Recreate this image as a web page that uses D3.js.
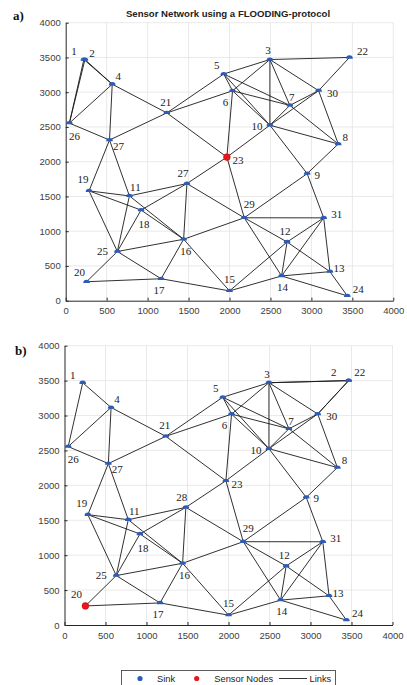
<!DOCTYPE html>
<html>
<head>
<meta charset="utf-8">
<script src="https://cdn.jsdelivr.net/npm/d3@7"></script>
<style>
  body { margin: 0; background: #fff; }
  svg { display: block; }
</style>
</head>
<body>
<svg id="chart" width="407" height="685"></svg>
<script>
// node positions (metres), index = node id
const nodeIds = [1, 3, 4, 5, 6, 7, 8, 9, 10, 11, 12, 13, 14, 15, 16, 17, 18, 19, 20, 21, 22, 23, 24, 25, 26, 27, 28, 29, 30, 31];
const nodeX   = [222, 2493, 568, 1930, 2037, 2737, 3328, 2948, 2493, 778, 2703, 3226, 2636, 2000, 1440, 1165, 920, 285, 255, 1235, 3465, 1968, 3438, 631, 45, 535, 1480, 2180, 3088, 3150];
const nodeY   = [3470, 3470, 3115, 3262, 3020, 2810, 2255, 1828, 2525, 1508, 845, 418, 356, 141, 884, 316, 1304, 1580, 273, 2702, 3500, 2066, 70, 708, 2555, 2312, 1685, 1193, 3022, 1192];
// node 2 moves between the two runs
const node2A = [235, 3470];
const node2B = [3465, 3500];

const edges = [
  [1, 26], [1, 4], [4, 26], [4, 27], [4, 21], [26, 27], [27, 21], [21, 5], [21, 6], [21, 23],
  [5, 3], [5, 6], [5, 7], [5, 10], [6, 3], [6, 7], [6, 10], [6, 23],
  [3, 22], [3, 10], [3, 7], [3, 30], [22, 30], [30, 7], [30, 10], [30, 8], [7, 10], [7, 8], [10, 8], [10, 9], [10, 23],
  [27, 19], [27, 11], [19, 11], [19, 18], [19, 25], [11, 16], [18, 16], [11, 28], [18, 28], [11, 25], [18, 25],
  [28, 16], [28, 23], [28, 29], [25, 16], [25, 20], [25, 17], [16, 17], [16, 15], [16, 29], [20, 17], [17, 15],
  [29, 23], [29, 9], [29, 31], [29, 12], [29, 14], [9, 31], [9, 8], [12, 31], [12, 15], [12, 14], [12, 13],
  [31, 14], [31, 13], [15, 14], [14, 13], [14, 24], [13, 24]
];
const edgesA = [[2, 26], [2, 4]];
const edgesB = [[2, 3], [2, 30]];

// the printed labels (panel a shows "27" twice)
const labelA = { 28: '27' };
const labelB = {};

const sensorA = 23;
const sensorB = 20;

const ticks = [0, 500, 1000, 1500, 2000, 2500, 3000, 3500, 4000];
const titleA = 'Sensor Network using a FLOODING-protocol';
const legendItems = ['Sink', 'Sensor Nodes', 'Links'];

// label placement (px offsets from the marker)
const labelOff = {
  1: [-10, -8], 2: [7, -6], 3: [-2, -9], 4: [6, -8], 5: [-7, -9], 6: [-7, 11], 7: [2, -8], 8: [7, -7],
  9: [10, 1], 10: [-13, 1], 11: [6, -9], 12: [-2, -11], 13: [9, -3], 14: [1, 11], 15: [0, -12],
  16: [2, 12], 17: [-2, 11], 18: [3, 14], 19: [-6, -12], 20: [-7, -10], 21: [-1, -11], 22: [13, -6],
  23: [11, 3], 24: [11, -7], 25: [-15, 0], 26: [5, 13], 27: [9, 6], 28: [-4, -10], 29: [5, -14],
  30: [14, 2], 31: [13, -4]
};

const svg = d3.select('#chart');
const SINK = '#2d5bb5', SENSOR = '#e8161d';

function drawPanel(opt) {
  const x = d3.scaleLinear().domain([0, 4000]).range(opt.xr);
  const y = d3.scaleLinear().domain([0, 4000]).range(opt.yr);
  const g = svg.append('g');

  const pos = {};
  nodeIds.forEach((id, i) => { pos[id] = [nodeX[i], nodeY[i]]; });
  pos[2] = opt.node2;

  // grid
  g.append('g').selectAll('line.gx').data(ticks.slice(1)).join('line')
    .attr('x1', d => x(d)).attr('x2', d => x(d))
    .attr('y1', opt.yr[0]).attr('y2', opt.yr[1])
    .attr('stroke', '#e3e3e3').attr('stroke-width', 0.8);
  g.append('g').selectAll('line.gy').data(ticks.slice(1)).join('line')
    .attr('y1', d => y(d)).attr('y2', d => y(d))
    .attr('x1', opt.xr[0]).attr('x2', opt.xr[1])
    .attr('stroke', '#e3e3e3').attr('stroke-width', 0.8);

  // axes, ticks pointing inward
  const fmt = d3.format('d');
  const ax = g.append('g').attr('transform', `translate(0,${opt.yr[0]})`)
    .call(d3.axisBottom(x).tickValues(ticks).tickFormat(fmt).tickSize(-3).tickPadding(7).tickSizeOuter(0));
  const ay = g.append('g').attr('transform', `translate(${opt.xr[0]},0)`)
    .call(d3.axisLeft(y).tickValues(ticks).tickFormat(fmt).tickSize(-3).tickPadding(5).tickSizeOuter(0));
  [ax, ay].forEach(a => {
    a.select('.domain').attr('stroke', '#262626').attr('stroke-width', 1);
    a.selectAll('.tick line').attr('stroke', '#262626');
    a.selectAll('.tick text').attr('font-family', 'Liberation Sans, Arial, sans-serif')
      .attr('font-size', 9.5).attr('fill', '#404040');
  });

  // links
  g.append('g').selectAll('line').data(edges.concat(opt.extra)).join('line')
    .attr('x1', d => x(pos[d[0]][0])).attr('y1', d => y(pos[d[0]][1]))
    .attr('x2', d => x(pos[d[1]][0])).attr('y2', d => y(pos[d[1]][1]))
    .attr('stroke', '#1a1a1a').attr('stroke-width', 0.9);

  const ids = [2].concat(nodeIds);
  // sinks
  g.append('g').selectAll('path').data(ids.filter(id => id !== opt.sensor)).join('path')
    .attr('transform', id => `translate(${x(pos[id][0])},${y(pos[id][1])})`)
    .attr('d', 'M-3.3,1.2 A3.3,3.3 0 0 1 3.3,1.2 Z')
    .attr('fill', SINK);
  // sensor
  g.append('circle')
    .attr('cx', x(pos[opt.sensor][0])).attr('cy', y(pos[opt.sensor][1]))
    .attr('r', 3.4).attr('fill', SENSOR).attr('stroke', '#b00').attr('stroke-width', 0.5);

  // labels
  g.append('g').selectAll('text').data(ids).join('text')
    .attr('x', id => x(pos[id][0]) + (opt.off[id] || labelOff[id])[0])
    .attr('y', id => y(pos[id][1]) + (opt.off[id] || labelOff[id])[1])
    .attr('dy', '0.35em').attr('text-anchor', 'middle')
    .attr('font-family', 'Liberation Serif, Times New Roman, serif')
    .attr('font-size', 11).attr('fill', '#222')
    .text(id => opt.labels[id] || String(id));

  // panel letter
  svg.append('text').attr('x', opt.letter[0]).attr('y', opt.letter[1])
    .attr('dy', '0.35em')
    .attr('font-family', 'Liberation Serif, Times New Roman, serif')
    .attr('font-weight', 'bold').attr('font-size', 13).attr('fill', '#111')
    .text(opt.letterText);
  return { x, y };
}

drawPanel({
  xr: [65.7, 393.3], yr: [300.7, 22.7], node2: node2A, extra: edgesA,
  labels: labelA, sensor: sensorA, off: {}, letter: [13, 15], letterText: 'a)'
});
drawPanel({
  xr: [64.5, 392.5], yr: [625, 345.7], node2: node2B, extra: edgesB,
  labels: labelB, sensor: sensorB, off: { 2: [-15, -8], 22: [11, -8], 20: [-9, -12] },
  letter: [15, 350.7], letterText: 'b)'
});

// title over panel a
svg.append('text').attr('x', 228).attr('y', 14).attr('dy', '0.35em')
  .attr('text-anchor', 'middle')
  .attr('font-family', 'Liberation Sans, Arial, sans-serif')
  .attr('font-weight', 'bold').attr('font-size', 9.6).attr('fill', '#222')
  .text(titleA);

// legend
const lg = svg.append('g');
lg.append('rect').attr('x', 121.5).attr('y', 670.5).attr('width', 214).attr('height', 22)
  .attr('fill', '#fff').attr('stroke', '#333').attr('stroke-width', 0.8);
const ly = 678.5;
lg.append('circle').attr('cx', 140).attr('cy', ly).attr('r', 2.6).attr('fill', SINK);
lg.append('circle').attr('cx', 196.7).attr('cy', ly).attr('r', 2.6).attr('fill', SENSOR);
lg.append('line').attr('x1', 279).attr('x2', 307).attr('y1', ly).attr('y2', ly)
  .attr('stroke', '#333').attr('stroke-width', 1);
lg.selectAll('text').data(legendItems).join('text')
  .attr('x', (d, i) => [157, 214.3, 309.5][i]).attr('y', ly).attr('dy', '0.35em')
  .attr('font-family', 'Liberation Sans, Arial, sans-serif')
  .attr('font-size', 9.3).attr('fill', '#222')
  .text(d => d);
</script>
</body>
</html>
